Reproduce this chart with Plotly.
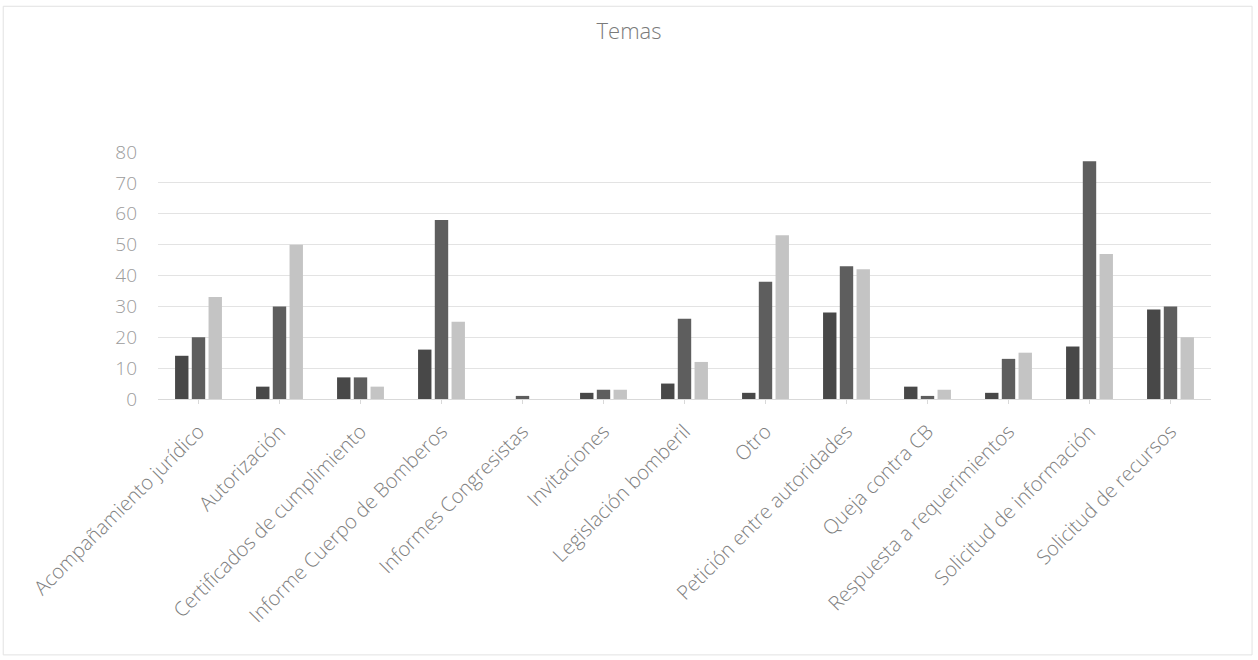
import plotly.graph_objects as go

categories = [
    "Acompañamiento jurídico", "Autorización", "Certificados de cumplimiento",
    "Informe Cuerpo de Bomberos", "Informes Congresistas", "Invitaciones",
    "Legislación bomberil", "Otro", "Petición entre autoridades",
    "Queja contra CB", "Respuesta a requerimientos", "Solicitud de información",
    "Solicitud de recursos",
]
serie_1 = [14, 4, 7, 16, 0, 2, 5, 2, 28, 4, 2, 17, 29]
serie_2 = [20, 30, 7, 58, 1, 3, 26, 38, 43, 1, 13, 77, 30]
serie_3 = [33, 50, 4, 25, 0, 3, 12, 53, 42, 3, 15, 47, 20]
y_ticks = [0, 10, 20, 30, 40, 50, 60, 70, 80]

colors = ["#484848", "#5e5e5e", "#c4c4c4"]
names = ["Serie 1", "Serie 2", "Serie 3"]

fig = go.Figure()
for name, vals, c in zip(names, [serie_1, serie_2, serie_3], colors):
    fig.add_trace(go.Bar(x=categories, y=vals, name=name, marker_color=c,
                         marker_line_width=0))

font_fam = "Open Sans, Lato, sans-serif"
fig.update_layout(
    width=1258, height=660,
    paper_bgcolor="white", plot_bgcolor="white",
    margin=dict(l=158, r=47, t=152, b=261),
    showlegend=False,
    barmode="group", bargap=0.38, bargroupgap=0.2,
    title=dict(text="Temas", x=0.5, xanchor="center", y=0.952, yanchor="middle",
               font=dict(family=font_fam, size=22, color="#7a7a7a", weight=300)),
    font=dict(family=font_fam, color="#8a8a8a"),
)
fig.update_xaxes(tickangle=-45, tickfont=dict(size=20, color="#7e7e7e", weight=300),
                 showline=True, linecolor="#d9d9d9", linewidth=1,
                 ticks="outside", ticklen=4, tickcolor="#d9d9d9", showgrid=False,
                 ticklabelstandoff=8)
fig.update_yaxes(range=[0, 80], tickvals=y_ticks,
                 tickfont=dict(size=19, color="#9c9c9c", weight=300),
                 showgrid=True, gridcolor="#e3e3e3", gridwidth=1, zeroline=False,
                 ticks="", ticklabelstandoff=20)

fig.add_shape(type="rect", xref="paper", yref="paper", x0=-0.147, x1=1.039, y0=-1.036, y1=1.59,
              line=dict(color="#e2e2e2", width=1))

fig.write_html("out.html")
